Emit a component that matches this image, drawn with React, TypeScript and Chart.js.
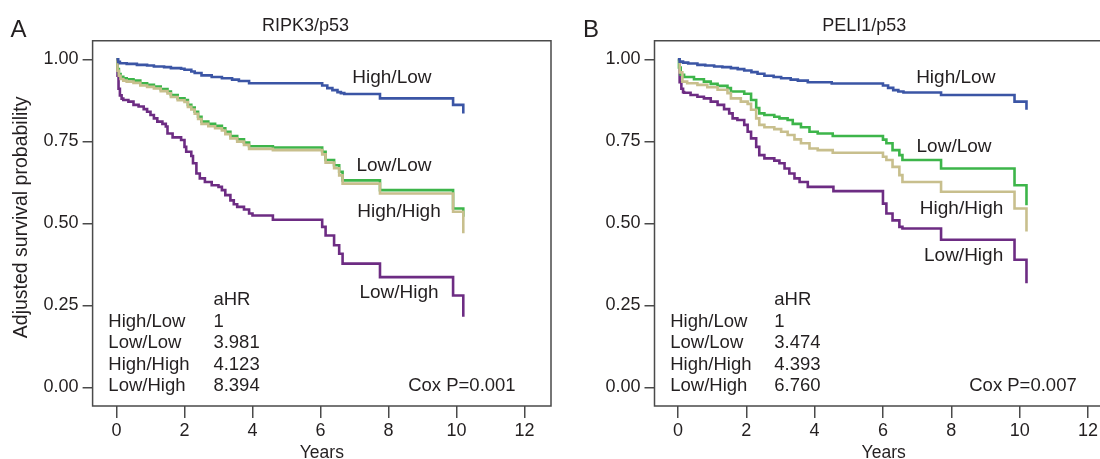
import React, { useEffect, useRef } from "react";
import { Chart, registerables } from "chart.js";

Chart.register(...registerables);

// ---------- data ----------
const xTickValues = [0, 2, 4, 6, 8, 10, 12];
const yTickValues = [0, 0.25, 0.5, 0.75, 1];
const groupNames = ["High/Low", "Low/Low", "High/High", "Low/High"];

const aHRPanelA = ["1", "3.981", "4.123", "8.394"];
const aHRPanelB = ["1", "3.474", "4.393", "6.760"];
const coxPanelA = "Cox P=0.001";
const coxPanelB = "Cox P=0.007";

// Panel A: RIPK3/p53
const aHighLowT = [0, 0.05, 0.1, 0.3, 0.6, 0.9, 1.1, 1.4, 1.6, 1.9, 2.0, 2.2, 2.3, 2.5, 2.8, 3.1, 3.4, 3.6, 3.9, 6.05, 6.2, 6.35, 6.5, 6.6, 6.7, 7.75, 9.9, 10.2];
const aHighLowS = [1, 0.992, 0.988, 0.986, 0.983, 0.981, 0.978, 0.976, 0.973, 0.971, 0.968, 0.963, 0.958, 0.951, 0.946, 0.942, 0.938, 0.934, 0.927, 0.92, 0.912, 0.906, 0.9, 0.897, 0.894, 0.881, 0.861, 0.835];

const aLowLowT = [0, 0.03, 0.07, 0.12, 0.2, 0.3, 0.5, 0.7, 0.9, 1.1, 1.3, 1.5, 1.6, 1.8, 2.0, 2.1, 2.2, 2.3, 2.4, 2.5, 2.7, 2.9, 3.1, 3.2, 3.35, 3.55, 3.75, 3.9, 4.6, 6.05, 6.15, 6.4, 6.55, 6.65, 7.75, 9.9, 10.2];
const aLowLowS = [1, 0.97, 0.955, 0.947, 0.942, 0.939, 0.935, 0.927, 0.922, 0.917, 0.909, 0.902, 0.891, 0.881, 0.876, 0.861, 0.853, 0.84, 0.825, 0.81, 0.803, 0.797, 0.79, 0.779, 0.766, 0.756, 0.746, 0.735, 0.731, 0.718, 0.693, 0.677, 0.657, 0.631, 0.601, 0.545, 0.52];

const aHighHighT = [0, 0.03, 0.07, 0.12, 0.2, 0.3, 0.5, 0.7, 0.9, 1.1, 1.3, 1.5, 1.6, 1.8, 2.0, 2.1, 2.2, 2.3, 2.4, 2.5, 2.7, 2.9, 3.1, 3.2, 3.35, 3.55, 3.75, 3.9, 4.6, 6.05, 6.15, 6.4, 6.55, 6.65, 7.75, 9.9, 10.2];
const aHighHighS = [1, 0.965, 0.95, 0.94, 0.935, 0.932, 0.928, 0.92, 0.916, 0.911, 0.903, 0.896, 0.885, 0.875, 0.87, 0.855, 0.847, 0.834, 0.818, 0.803, 0.796, 0.79, 0.783, 0.772, 0.759, 0.749, 0.739, 0.727, 0.723, 0.71, 0.685, 0.668, 0.646, 0.621, 0.591, 0.535, 0.47];

const aLowHighT = [0, 0.03, 0.06, 0.1, 0.15, 0.2, 0.35, 0.5, 0.65, 0.8, 0.9, 1.0, 1.1, 1.2, 1.35, 1.45, 1.5, 1.65, 1.9, 2.0, 2.05, 2.2, 2.25, 2.35, 2.45, 2.6, 2.8, 3.0, 3.1, 3.2, 3.35, 3.45, 3.55, 3.75, 3.9, 4.0, 4.6, 6.05, 6.15, 6.4, 6.55, 6.65, 7.75, 9.9, 10.2];
const aLowHighS = [1, 0.95, 0.91, 0.89, 0.88, 0.876, 0.871, 0.861, 0.856, 0.848, 0.84, 0.83, 0.82, 0.81, 0.803, 0.795, 0.774, 0.762, 0.754, 0.733, 0.718, 0.705, 0.683, 0.652, 0.637, 0.626, 0.616, 0.611, 0.601, 0.586, 0.57, 0.558, 0.55, 0.542, 0.53, 0.524, 0.511, 0.489, 0.463, 0.433, 0.407, 0.377, 0.336, 0.28, 0.215];

// Panel B: PELI1/p53
const bHighLowT = [0, 0.05, 0.15, 0.3, 0.57, 0.8, 1.06, 1.3, 1.55, 1.75, 1.94, 2.15, 2.33, 2.53, 2.8, 3.02, 3.3, 3.51, 3.8, 4.5, 6.0, 6.15, 6.3, 6.45, 6.6, 7.7, 9.85, 10.2];
const bHighLowS = [1, 0.993, 0.99, 0.987, 0.983, 0.981, 0.978, 0.976, 0.973, 0.97, 0.966, 0.961, 0.956, 0.95, 0.946, 0.942, 0.938, 0.935, 0.93, 0.926, 0.92, 0.913, 0.906, 0.902, 0.899, 0.891, 0.871, 0.846];

const bLowLowT = [0, 0.03, 0.08, 0.18, 0.47, 0.76, 0.96, 1.16, 1.45, 1.55, 1.94, 2.14, 2.29, 2.38, 2.53, 2.82, 2.97, 3.21, 3.36, 3.6, 3.85, 4.09, 4.53, 6.0, 6.1, 6.28, 6.48, 6.57, 7.7, 9.85, 10.2];
const bLowLowS = [1, 0.975, 0.953, 0.946, 0.939, 0.932, 0.925, 0.919, 0.912, 0.902, 0.895, 0.876, 0.851, 0.835, 0.83, 0.825, 0.82, 0.815, 0.803, 0.793, 0.779, 0.774, 0.766, 0.755, 0.744, 0.723, 0.708, 0.693, 0.667, 0.616, 0.555];

const bHighHighT = [0, 0.05, 0.13, 0.27, 0.57, 0.86, 1.16, 1.45, 1.55, 1.84, 2.04, 2.14, 2.29, 2.38, 2.53, 2.82, 3.02, 3.21, 3.41, 3.6, 3.85, 4.09, 4.53, 6.0, 6.1, 6.28, 6.48, 6.57, 7.7, 9.85, 10.2];
const bHighHighS = [1, 0.96, 0.932, 0.927, 0.922, 0.915, 0.907, 0.897, 0.881, 0.871, 0.864, 0.846, 0.82, 0.8, 0.793, 0.787, 0.779, 0.769, 0.756, 0.744, 0.728, 0.723, 0.715, 0.703, 0.693, 0.672, 0.647, 0.626, 0.596, 0.545, 0.475];

const bLowHighT = [0, 0.05, 0.1, 0.15, 0.18, 0.37, 0.57, 0.76, 0.96, 1.16, 1.35, 1.5, 1.6, 1.74, 1.94, 2.04, 2.14, 2.29, 2.38, 2.53, 2.82, 2.97, 3.12, 3.26, 3.41, 3.56, 3.8, 4.55, 6.0, 6.1, 6.28, 6.48, 6.57, 7.7, 9.85, 10.2];
const bLowHighS = [1, 0.93, 0.91, 0.9, 0.898, 0.891, 0.886, 0.881, 0.871, 0.861, 0.848, 0.835, 0.82, 0.815, 0.8, 0.779, 0.759, 0.733, 0.708, 0.698, 0.691, 0.683, 0.667, 0.652, 0.637, 0.626, 0.611, 0.598, 0.56, 0.53, 0.509, 0.489, 0.484, 0.45, 0.389, 0.317];

// ---------- styles ----------
const FONT = "'Liberation Sans', Arial, Helvetica, sans-serif";
const TEXT = "#231f20";
const FRAME = "#4a4a4a";
const SERIES_COLORS = ["#3b55a5", "#3db54a", "#c8bf8d", "#6d2c83"];

const toPoints = (t: number[], s: number[]) => t.map((x, i) => ({ x, y: s[i] }));

const decorPlugin = {
  id: "panelDecor",
  afterDraw(chart: any, _args: any, o: any) {
    const { ctx, chartArea: a, scales } = chart;
    const xs = scales.x;
    const ys = scales.y;
    ctx.save();
    // frame
    ctx.strokeStyle = FRAME;
    ctx.lineWidth = 1.5;
    ctx.beginPath();
    if (o.closeRight) {
      ctx.rect(a.left, a.top, a.right - a.left, a.bottom - a.top);
    } else {
      ctx.moveTo(a.right + 2, a.top);
      ctx.lineTo(a.left, a.top);
      ctx.lineTo(a.left, a.bottom);
      ctx.lineTo(a.right + 2, a.bottom);
    }
    ctx.stroke();

    const txt = (s: string, x: number, y: number, size: number, align: CanvasTextAlign = "left") => {
      ctx.font = `${size}px ${FONT}`;
      ctx.fillStyle = TEXT;
      ctx.textAlign = align;
      ctx.textBaseline = "alphabetic";
      ctx.fillText(s, x, y);
    };

    // panel letter and title
    txt(o.letter, o.letterX, 37, 24);
    txt(o.title, xs.getPixelForValue(o.titleAt), 30.5, 18, "center");
    // x-axis title
    txt("Years", xs.getPixelForValue(o.xTitleAt), 457.5, 17.5, "center");
    // y-axis title
    if (o.yTitle) {
      ctx.save();
      ctx.translate(21.5, (a.top + a.bottom) / 2 - 6);
      ctx.rotate(-Math.PI / 2);
      ctx.font = `19.5px ${FONT}`;
      ctx.fillStyle = TEXT;
      ctx.textAlign = "center";
      ctx.textBaseline = "middle";
      ctx.fillText(o.yTitle, 0, 0);
      ctx.restore();
    }
    // curve labels
    o.curveLabels.forEach((l: any, i: number) => {
      txt(groupNames[i], xs.getPixelForValue(l.t), ys.getPixelForValue(l.s) + 5.5, 19, "center");
    });
    // aHR table
    const last = a.bottom - 15;
    const gap = 21.5;
    const nameX = xs.getPixelForValue(o.tableNameAt);
    const valX = xs.getPixelForValue(o.tableValueAt);
    txt("aHR", valX, last - 4 * gap, 18.5);
    groupNames.forEach((g, i) => {
      const y = last - (3 - i) * gap;
      txt(g, nameX, y, 18.5);
      txt(o.aHR[i], valX, y, 18.5);
    });
    txt(o.cox, xs.getPixelForValue(o.coxAt), last, 18.5, "right");
    ctx.restore();
  },
};

type PanelCfg = {
  left: number;
  width: number;
  axisWidth: number;
  rightPad: number;
  xMin: number;
  xMax: number;
  series: { t: number[]; s: number[] }[];
  decor: any;
};

const Y_MIN = -0.057;
const Y_MAX = 1.0567;

function Panel({ cfg }: { cfg: PanelCfg }) {
  const ref = useRef<HTMLCanvasElement | null>(null);
  useEffect(() => {
    if (!ref.current) return;
    const order = [0, 2, 1, 3];
    const chart = new Chart(ref.current, {
      type: "line",
      data: {
        datasets: order.map((i) => ({
          label: groupNames[i],
          data: toPoints(cfg.series[i].t, cfg.series[i].s),
          borderColor: SERIES_COLORS[i],
          backgroundColor: SERIES_COLORS[i],
          borderWidth: 2.6,
          pointRadius: 0,
          stepped: "before" as const,
          fill: false,
        })),
      },
      options: {
        responsive: false,
        animation: false,
        events: [],
        layout: { padding: { top: 40.7, right: cfg.rightPad, left: 0, bottom: 0 } },
        plugins: {
          legend: { display: false },
          tooltip: { enabled: false },
          title: { display: false },
          panelDecor: cfg.decor,
        } as any,
        scales: {
          x: {
            type: "linear",
            min: cfg.xMin,
            max: cfg.xMax,
            afterBuildTicks: (s: any) => {
              s.ticks = xTickValues.map((v) => ({ value: v }));
            },
            afterFit: (s: any) => {
              s.height = 53;
            },
            border: { display: false },
            grid: { display: true, drawOnChartArea: false, drawTicks: true, tickLength: 12, color: FRAME, lineWidth: 1.5 },
            ticks: {
              autoSkip: false,
              maxRotation: 0,
              padding: 2,
              color: TEXT,
              font: { family: FONT, size: 18 },
              callback: (v: any) => String(v),
            },
          },
          y: {
            type: "linear",
            min: Y_MIN,
            max: Y_MAX,
            afterBuildTicks: (s: any) => {
              s.ticks = yTickValues.map((v) => ({ value: v }));
            },
            afterFit: (s: any) => {
              s.width = cfg.axisWidth;
            },
            border: { display: false },
            grid: { display: true, drawOnChartArea: false, drawTicks: true, tickLength: 10, color: FRAME, lineWidth: 1.5 },
            ticks: {
              autoSkip: false,
              padding: 4,
              color: TEXT,
              font: { family: FONT, size: 18 },
              callback: (v: any) => Number(v).toFixed(2),
            },
          },
        },
      },
      plugins: [decorPlugin],
    });
    return () => chart.destroy();
  }, [cfg]);
  return (
    <canvas
      ref={ref}
      width={cfg.width}
      height={459}
      style={{ position: "absolute", left: cfg.left, top: 0, width: cfg.width, height: 459 }}
    />
  );
}

const panelA: PanelCfg = {
  left: 0,
  width: 560,
  axisWidth: 92.6,
  rightPad: 9,
  xMin: -0.703,
  xMax: 12.78,
  series: [
    { t: aHighLowT, s: aHighLowS },
    { t: aLowLowT, s: aLowLowS },
    { t: aHighHighT, s: aHighHighS },
    { t: aLowHighT, s: aLowHighS },
  ],
  decor: {
    closeRight: true,
    letter: "A",
    letterX: 10.5,
    title: "RIPK3/p53",
    titleAt: 5.56,
    xTitleAt: 6.04,
    yTitle: "Adjusted survival probability",
    curveLabels: [
      { t: 8.1, s: 0.945 },
      { t: 8.16, s: 0.675 },
      { t: 8.31, s: 0.537 },
      { t: 8.31, s: 0.289 },
    ],
    tableNameAt: -0.24,
    tableValueAt: 2.85,
    aHR: aHRPanelA,
    cox: coxPanelA,
    coxAt: 11.74,
  },
};

const panelB: PanelCfg = {
  left: 560,
  width: 540,
  axisWidth: 94.5,
  rightPad: 0,
  xMin: -0.686,
  xMax: 12.31,
  series: [
    { t: bHighLowT, s: bHighLowS },
    { t: bLowLowT, s: bLowLowS },
    { t: bHighHighT, s: bHighHighS },
    { t: bLowHighT, s: bLowHighS },
  ],
  decor: {
    closeRight: false,
    letter: "B",
    letterX: 23,
    title: "PELI1/p53",
    titleAt: 5.45,
    xTitleAt: 6.02,
    yTitle: "",
    curveLabels: [
      { t: 8.13, s: 0.943 },
      { t: 8.08, s: 0.733 },
      { t: 8.3, s: 0.544 },
      { t: 8.36, s: 0.402 },
    ],
    tableNameAt: -0.225,
    tableValueAt: 2.82,
    aHR: aHRPanelB,
    cox: coxPanelB,
    coxAt: 11.67,
  },
};

export default function App() {
  return (
    <div style={{ position: "absolute", left: 0, top: 0, width: 1100, height: 459, background: "#fff", overflow: "hidden" }}>
      <Panel cfg={panelA} />
      <Panel cfg={panelB} />
    </div>
  );
}
